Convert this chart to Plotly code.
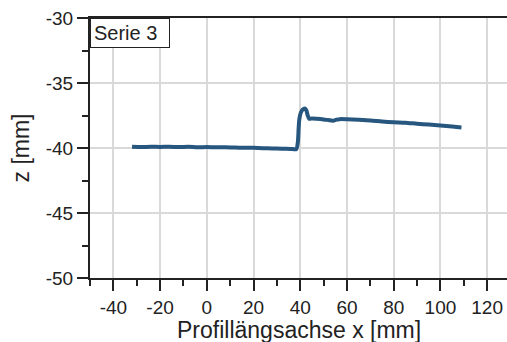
import plotly.graph_objects as go

# Profile of series 3: position along the profile axis (mm) and height z (mm)
x_mm = [-32, -28, -24, -20, -16, -12, -8, -4, 0, 4, 8, 12, 16, 20, 24, 28, 32, 36,
        38.3, 39.0, 39.3, 39.6, 40.2, 41.0, 41.9, 42.6, 43.2, 43.8, 45, 47, 50, 52,
        54, 55.5, 57, 60, 65, 70, 75, 80, 85, 90, 95, 100, 105, 109]
z_mm = [-39.91, -39.93, -39.90, -39.92, -39.90, -39.93, -39.91, -39.94, -39.93, -39.95,
        -39.94, -39.97, -39.98, -39.99, -40.01, -40.03, -40.05, -40.07,
        -40.09, -39.5, -38.5, -37.8, -37.3, -37.05, -36.96, -37.1, -37.5, -37.75,
        -37.73, -37.75, -37.80, -37.85, -37.90, -37.82, -37.78, -37.79, -37.83,
        -37.88, -37.96, -38.02, -38.05, -38.14, -38.20, -38.27, -38.35, -38.42]

x_ticks = [-40, -20, 0, 20, 40, 60, 80, 100, 120]
z_ticks = [-50, -45, -40, -35, -30]
series_label = "Serie 3"
x_title = "Profillängsachse x [mm]"
z_title = "z [mm]"

font_family = "Liberation Sans, Arial, sans-serif"
axis_color = "#222222"
grid_color = "#d9d9d9"

W, H = 507, 342
M = dict(l=90, r=0, t=18, b=64)
plot_h = H - M["t"] - M["b"]

fig = go.Figure()
fig.add_trace(go.Scatter(
    x=x_mm, y=z_mm, mode="lines",
    line=dict(color="#27577f", width=4, shape="spline", smoothing=0.6),
    showlegend=False,
))

fig.update_layout(
    width=W, height=H,
    margin=M,
    paper_bgcolor="white", plot_bgcolor="white",
    font=dict(family=font_family, size=19, color="#222222"),
    annotations=[
        dict(
            text=series_label, xref="paper", yref="paper", x=0, y=1,
            xanchor="left", yanchor="top", showarrow=False,
            width=72, align="left",
            font=dict(size=20, color="#222222"),
            bordercolor="#222222", borderwidth=1, borderpad=3, bgcolor="white",
        ),
        # x-axis title placed at the bottom edge of the figure
        dict(
            text=x_title, xref="paper", yref="paper", x=0.5, y=-M["b"] / plot_h,
            xanchor="center", yanchor="bottom", showarrow=False, yshift=-3,
            font=dict(size=23, color="#222222"),
        ),
    ],
)

fig.update_xaxes(
    range=[-50, 128.5],
    tickvals=x_ticks, ticktext=[str(v) for v in x_ticks],
    ticks="outside", ticklen=11, tickwidth=2, tickcolor=axis_color,
    minor=dict(ticks="outside", ticklen=6, tickwidth=2, tickcolor=axis_color,
               dtick=10, tick0=0, showgrid=False),
    showline=True, linecolor=axis_color, linewidth=2, mirror=True,
    showgrid=True, gridcolor=grid_color, gridwidth=1.5,
    zeroline=False,
    tickfont=dict(size=19),
)
fig.update_yaxes(
    range=[-50, -30],
    tickvals=z_ticks, ticktext=[str(v) for v in z_ticks],
    ticks="outside", ticklen=11, tickwidth=2, tickcolor=axis_color,
    minor=dict(ticks="outside", ticklen=6, tickwidth=2, tickcolor=axis_color,
               dtick=2.5, tick0=0, showgrid=False),
    showline=True, linecolor=axis_color, linewidth=2,
    showgrid=True, gridcolor=grid_color, gridwidth=1.5,
    zeroline=False,
    title=dict(text=z_title, font=dict(size=23), standoff=10),
    tickfont=dict(size=19),
)

fig.write_html("out.html")
